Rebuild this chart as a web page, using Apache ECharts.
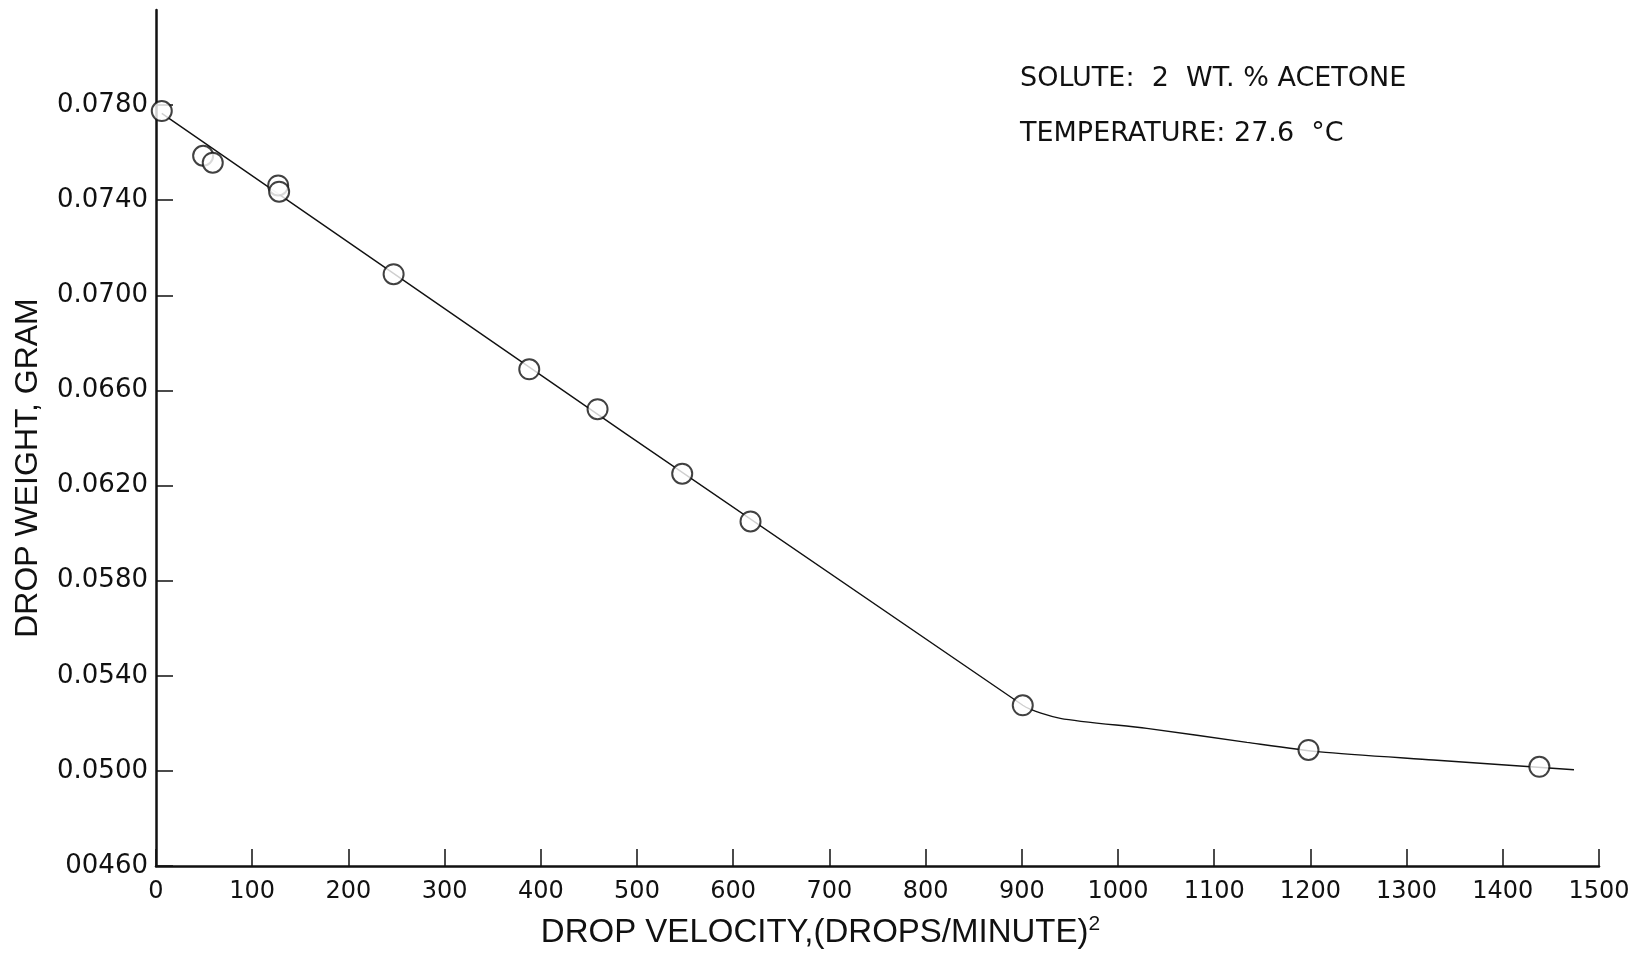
<!DOCTYPE html>
<html>
<head>
<meta charset="utf-8">
<script src="https://cdn.jsdelivr.net/npm/echarts@6/dist/echarts.min.js"></script>
<style>
html,body{margin:0;padding:0;background:#fff;}
#chart{width:1637px;height:954px;}
</style>
</head>
<body>
<div id="chart"></div>
<script>
// measured data points: drop velocity (drops/minute)^2 vs drop weight (gram)
const velocity = [6, 49, 59, 127, 128, 247, 388, 459, 547, 618, 901, 1198, 1438];
const dropWeight = [0.07775, 0.07587, 0.07558, 0.07462, 0.07436, 0.07089, 0.06689, 0.06521, 0.0625, 0.06049, 0.05276, 0.05088, 0.05017];
// hand-drawn fitted curve
const curveX = [6, 901, 940, 1030, 1134, 1210, 1328, 1474];
const curveY = [0.07765, 0.05276, 0.05221, 0.05179, 0.0512, 0.0508, 0.05046, 0.05005];
// axis ticks
const xTicks = [0, 100, 200, 300, 400, 500, 600, 700, 800, 900, 1000, 1100, 1200, 1300, 1400, 1500];
const yTicks = [0.046, 0.050, 0.054, 0.058, 0.062, 0.066, 0.070, 0.074, 0.078];
const yTickLabels = ['00460', '0.0500', '0.0540', '0.0580', '0.0620', '0.0660', '0.0700', '0.0740', '0.0780'];
const annotationLines = ['SOLUTE:  2  WT. % ACETONE', 'TEMPERATURE: 27.6  °C'];

const chart = echarts.init(document.getElementById('chart'), null, {renderer: 'canvas'});
const ink = '#111';
const labelFont = 'DejaVu Sans';
const titleFont = 'Liberation Sans';

const option = {
  backgroundColor: '#fff',
  animation: false,
  grid: {left: 156, right: 38, top: 10, bottom: 82, containLabel: false},
  xAxis: {
    type: 'value', min: 0, max: 1500, interval: 100,
    name: '{a|DROP VELOCITY,(DROPS/MINUTE)}{s|2}',
    nameLocation: 'middle', nameGap: 48,
    nameTextStyle: {
      padding: [0, 114, 0, 0],
      rich: {
        a: {fontFamily: titleFont, fontSize: 33, color: ink},
        s: {fontFamily: titleFont, fontSize: 21, color: ink, padding: [0, 0, 16, 0]}
      }
    },
    axisLine: {show: true, onZero: false, lineStyle: {color: ink, width: 2.5}},
    axisTick: {show: true, inside: true, length: 17, lineStyle: {color: ink, width: 1.5}},
    axisLabel: {show: true, margin: 14, fontFamily: labelFont, fontSize: 24, color: ink,
      customValues: xTicks, formatter: v => String(Math.round(v))},
    splitLine: {show: false}
  },
  yAxis: {
    type: 'value', min: 0.046, max: 0.082,
    name: 'DROP WEIGHT, GRAM',
    nameLocation: 'middle', nameGap: 112, nameRotate: 90,
    nameTextStyle: {fontFamily: titleFont, fontSize: 32, color: ink, padding: [0, 60, 0, 0]},
    axisLine: {show: true, onZero: false, lineStyle: {color: ink, width: 2.5}},
    axisTick: {show: true, inside: true, length: 17, customValues: yTicks, lineStyle: {color: ink, width: 1.5}},
    axisLabel: {show: true, margin: 8, fontFamily: labelFont, fontSize: 26, color: ink,
      customValues: yTicks,
      formatter: function (v) {
        let best = 0, bd = Infinity;
        yTicks.forEach((t, i) => { const d = Math.abs(t - v); if (d < bd) { bd = d; best = i; } });
        return yTickLabels[best];
      }},
    splitLine: {show: false}
  },
  series: [
    {
      type: 'line', name: 'curve', z: 2,
      data: curveX.map((x, i) => [x, curveY[i]]),
      showSymbol: false, smooth: 0.25,
      lineStyle: {color: ink, width: 1.4},
      clip: false
    },
    {
      type: 'scatter', name: 'data', z: 3,
      data: velocity.map((x, i) => [x, dropWeight[i]]),
      symbol: 'circle', symbolSize: 20,
      itemStyle: {color: '#fff', borderColor: ink, borderWidth: 2},
      clip: false
    }
  ],
  graphic: annotationLines.map((t, i) => ({
    type: 'text', left: 1020, top: 65 + i * 55,
    style: {text: t, fontFamily: labelFont, fontSize: 27, fill: ink}
  }))
};
chart.setOption(option);
</script>
</body>
</html>
